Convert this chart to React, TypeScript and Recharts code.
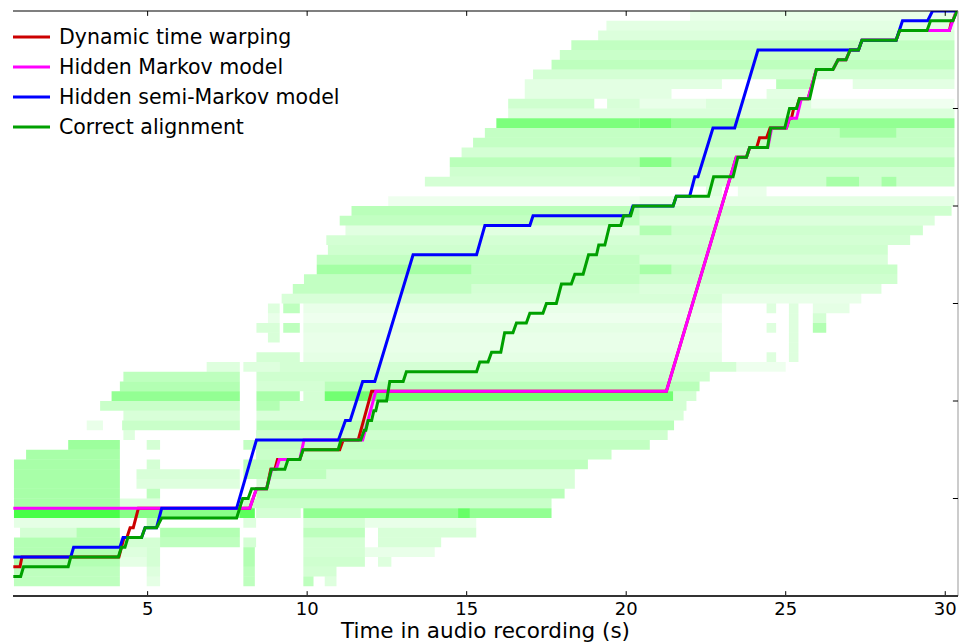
import React from 'react';
import { ComposedChart, XAxis, YAxis, Line, ReferenceArea, ReferenceLine, Legend } from 'recharts';

const X_MIN = 0.78;
const X_MAX = 30.4;
const Y_MIN = 0;
const Y_MAX = 60;
const xTicks = [5, 10, 15, 20, 25, 30];
const yTicks = [10, 20, 30, 40, 50];

const seriesNames = ['Dynamic time warping', 'Hidden Markov model', 'Hidden semi-Markov model', 'Correct alignment'];
const seriesColors = ['#cc0000', '#ff00ff', '#0000ff', '#00a000'];

type P = [number, number];

const dtwPath: P[] = [
  [0.79, 3], [1.0, 3], [1.06, 4], [4.1, 4], [4.26, 6], [4.35, 6], [4.45, 7], [4.55, 7], [4.71, 9], [8.2, 9],
  [8.41, 11], [8.73, 11], [8.86, 13], [8.99, 13], [9.07, 14], [9.77, 14], [9.87, 15], [11.02, 15], [11.13, 16],
  [11.6, 16], [12.02, 21], [21.26, 21], [23.45, 45], [23.77, 45], [23.87, 46], [24.09, 46], [24.18, 47], [24.4, 47],
  [24.51, 48], [25.02, 48], [25.12, 49], [25.18, 49], [25.25, 50], [25.34, 50], [25.43, 51], [25.7, 51], [25.96, 54],
  [26.48, 54], [26.64, 55], [26.89, 55], [27.02, 56], [27.28, 56], [27.39, 57], [28.46, 57], [28.57, 58], [30.13, 58],
  [30.2, 59], [30.24, 59], [30.35, 60],
];

const hmmPath: P[] = [
  [0.79, 9], [8.2, 9], [8.41, 11], [8.73, 11], [8.89, 13], [9.03, 13], [9.13, 14], [9.77, 14], [9.9, 16], [11.74, 16],
  [12.15, 21], [21.26, 21], [23.45, 45], [23.77, 45], [23.87, 46], [24.44, 46], [24.56, 48], [25.02, 48], [25.12, 49],
  [25.34, 49], [25.49, 51], [25.7, 51], [25.96, 54], [26.48, 54], [26.64, 55], [26.89, 55], [27.02, 56], [27.28, 56],
  [27.39, 57], [28.46, 57], [28.57, 58], [30.13, 58], [30.35, 60],
];

const hsmmPath: P[] = [
  [0.79, 4], [2.59, 4], [2.68, 5], [4.13, 5], [4.23, 6], [4.81, 6], [4.92, 7], [5.28, 7], [5.44, 9], [7.79, 9],
  [8.41, 16], [10.98, 16], [11.2, 18], [11.35, 18], [11.74, 22], [12.12, 22], [13.32, 35], [15.31, 35], [15.57, 38],
  [16.98, 38], [17.08, 39], [20.11, 39], [20.21, 40], [21.47, 40], [21.57, 41], [21.99, 41], [22.15, 43], [22.25, 43],
  [22.72, 48], [23.4, 48], [24.13, 56], [27.28, 56], [27.39, 57], [28.46, 57], [28.66, 59], [29.45, 59], [29.6, 60],
  [30.38, 60],
];

const truePath: P[] = [
  [0.79, 2], [1.02, 2], [1.11, 3], [2.51, 3], [2.59, 4], [4.08, 4], [4.18, 5], [4.29, 5], [4.38, 6], [4.81, 6],
  [4.92, 7], [5.28, 7], [5.44, 8], [7.79, 8], [7.98, 10], [8.15, 10], [8.26, 11], [8.73, 11], [8.88, 13], [9.3, 13],
  [9.4, 14], [9.77, 14], [9.87, 15], [10.97, 15], [11.06, 16], [11.68, 16], [11.79, 17], [11.84, 17], [11.91, 18],
  [12.02, 18], [12.09, 19], [12.15, 19], [12.22, 20], [12.49, 20], [12.59, 22], [13.01, 22], [13.11, 23], [15.31, 23],
  [15.41, 24], [15.67, 24], [15.78, 25], [16.07, 25], [16.19, 27], [16.45, 27], [16.56, 28], [16.87, 28], [16.98, 29],
  [17.39, 29], [17.5, 30], [17.81, 30], [17.97, 32], [18.28, 32], [18.39, 33], [18.65, 33], [18.82, 35], [19.07, 35],
  [19.14, 36], [19.33, 36], [19.48, 38], [19.83, 38], [19.92, 39], [20.14, 39], [20.23, 40], [21.47, 40], [21.57, 41],
  [22.58, 41], [22.74, 43], [23.35, 43], [23.5, 45], [23.77, 45], [23.87, 46], [24.43, 46], [24.53, 48], [24.97, 48],
  [25.12, 50], [25.34, 50], [25.43, 51], [25.75, 51], [25.96, 54], [26.48, 54], [26.64, 55], [26.89, 55], [27.02, 56],
  [27.28, 56], [27.39, 57], [28.46, 57], [28.57, 58], [29.43, 58], [29.54, 59], [30.24, 59], [30.37, 60],
];

// heat map: index = score row; each segment = [start time, end time, intensity]
type Seg = [number, number, number];
const heatRows: Seg[][] = [
  [],
  [[0.81, 4.13, 0.3], [4.97, 5.39, 0.12], [8.0, 8.36, 0.3], [9.88, 10.2, 0.3], [10.55, 10.92, 0.15]],
  [[0.81, 4.13, 0.3], [4.97, 5.39, 0.15], [8.0, 8.36, 0.3], [9.88, 10.92, 0.2]],
  [[0.81, 4.13, 0.35], [4.13, 4.97, 0.12], [4.97, 5.39, 0.2], [8.0, 8.36, 0.35], [9.88, 11.81, 0.22], [12.22, 12.64, 0.15]],
  [[0.81, 4.13, 0.35], [4.13, 4.97, 0.15], [4.97, 5.39, 0.2], [8.0, 8.36, 0.35], [9.88, 11.81, 0.2], [11.81, 14.0, 0.1]],
  [[0.81, 4.13, 0.35], [4.13, 5.39, 0.2], [5.39, 7.89, 0.3], [8.0, 8.4, 0.2], [9.88, 11.81, 0.2], [12.22, 14.2, 0.18]],
  [[1.0, 2.77, 0.2], [2.77, 4.13, 0.35], [5.39, 7.89, 0.35], [9.88, 11.81, 0.3], [12.22, 15.3, 0.18]],
  [[0.81, 4.13, 0.12], [4.97, 5.39, 0.3], [8.0, 8.4, 0.15], [9.88, 11.81, 0.2], [11.81, 15.3, 0.1]],
  [[0.81, 4.13, 0.85], [4.13, 7.89, 0.55], [7.89, 8.36, 0.75], [8.4, 9.8, 0.2], [9.88, 14.73, 0.5], [14.73, 15.1, 0.7], [15.1, 17.66, 0.5]],
  [[0.81, 4.13, 0.4], [4.13, 5.39, 0.15], [8.0, 17.66, 0.25]],
  [[0.81, 4.13, 0.4], [4.97, 5.39, 0.3], [8.41, 18.07, 0.32]],
  [[0.81, 4.13, 0.4], [4.65, 7.89, 0.15], [8.41, 18.39, 0.18]],
  [[0.81, 4.13, 0.4], [4.65, 7.89, 0.18], [8.0, 10.6, 0.3], [10.6, 18.39, 0.18]],
  [[0.81, 4.13, 0.4], [4.97, 5.39, 0.2], [8.0, 18.8, 0.3]],
  [[1.19, 4.13, 0.4], [8.4, 19.54, 0.25]],
  [[2.51, 4.13, 0.45], [4.97, 5.39, 0.2], [8.0, 20.74, 0.28]],
  [[4.24, 4.6, 0.15], [8.4, 21.3, 0.22]],
  [[3.09, 3.6, 0.1], [4.2, 7.89, 0.25], [8.41, 21.5, 0.32]],
  [[4.24, 7.89, 0.18], [8.41, 21.8, 0.18]],
  [[3.51, 7.89, 0.25], [8.41, 9.14, 0.35], [9.14, 21.89, 0.2]],
  [[3.87, 7.89, 0.5], [8.41, 9.77, 0.4], [9.88, 10.55, 0.2], [10.55, 21.47, 0.65], [21.47, 22.2, 0.2]],
  [[4.13, 7.89, 0.35], [8.41, 10.55, 0.2], [10.55, 22.3, 0.32]],
  [[4.24, 7.89, 0.3], [8.41, 22.62, 0.22]],
  [[6.85, 7.89, 0.15], [8.0, 9.14, 0.15], [9.14, 23.45, 0.2], [23.45, 25.0, 0.08]],
  [[8.41, 9.77, 0.2], [9.88, 23.0, 0.12], [24.4, 24.7, 0.15], [25.1, 25.4, 0.15]],
  [[9.88, 23.0, 0.1], [25.1, 25.4, 0.15]],
  [[8.77, 9.14, 0.18], [9.88, 23.0, 0.1], [25.1, 25.4, 0.15]],
  [[8.41, 9.14, 0.18], [9.25, 9.77, 0.3], [9.88, 23.0, 0.12], [24.4, 24.7, 0.15], [25.1, 25.4, 0.15], [25.85, 26.27, 0.35]],
  [[8.77, 9.14, 0.1], [9.88, 23.0, 0.08], [25.1, 25.4, 0.15], [25.85, 26.27, 0.2]],
  [[8.77, 9.14, 0.15], [9.25, 9.77, 0.3], [9.88, 23.0, 0.1], [24.4, 24.7, 0.15], [25.1, 25.4, 0.15], [25.85, 27.0, 0.12]],
  [[9.2, 23.0, 0.18], [23.0, 27.37, 0.1]],
  [[9.55, 15.15, 0.28], [15.15, 20.42, 0.2], [20.42, 28.0, 0.16]],
  [[9.9, 20.42, 0.28], [20.42, 28.5, 0.22]],
  [[10.3, 15.15, 0.42], [15.15, 20.42, 0.28], [20.42, 21.42, 0.4], [21.42, 28.5, 0.25]],
  [[10.3, 20.42, 0.28], [20.42, 28.2, 0.18]],
  [[10.65, 28.2, 0.22]],
  [[10.6, 28.9, 0.2]],
  [[11.2, 20.42, 0.14], [20.42, 21.42, 0.35], [21.42, 29.3, 0.22]],
  [[11.02, 20.42, 0.28], [20.42, 29.67, 0.16]],
  [[11.39, 20.42, 0.32], [20.42, 30.2, 0.22]],
  [[12.54, 20.42, 0.08], [20.42, 30.29, 0.12]],
  [[22.5, 23.0, 0.15], [23.5, 24.4, 0.1]],
  [[13.69, 20.42, 0.2], [20.42, 26.27, 0.22], [26.27, 27.3, 0.4], [27.3, 28.0, 0.22], [28.0, 28.47, 0.4], [28.47, 30.29, 0.22]],
  [[14.47, 30.29, 0.22]],
  [[14.47, 20.42, 0.32], [20.42, 21.42, 0.55], [21.42, 30.29, 0.32]],
  [[14.84, 30.29, 0.2]],
  [[15.2, 30.29, 0.27]],
  [[15.57, 26.69, 0.27], [26.69, 28.47, 0.42], [28.47, 30.29, 0.27]],
  [[15.93, 20.42, 0.6], [20.42, 21.42, 0.65], [21.42, 30.29, 0.5]],
  [[16.3, 30.29, 0.16]],
  [[16.3, 19.0, 0.22], [19.4, 20.42, 0.18], [20.42, 22.5, 0.1], [22.5, 25.8, 0.16], [25.8, 30.29, 0.07]],
  [[16.82, 21.42, 0.13], [24.4, 25.8, 0.13]],
  [[16.82, 23.0, 0.13], [24.7, 25.8, 0.32], [27.1, 30.29, 0.13]],
  [[17.08, 30.29, 0.2]],
  [[17.66, 30.29, 0.3]],
  [[17.92, 30.29, 0.25]],
  [[18.28, 30.29, 0.28]],
  [[19.12, 30.29, 0.16]],
  [[19.38, 30.29, 0.13]],
  [[22.0, 30.29, 0.1]],
];

const toPts = (p: P[]) => p.map(([t, v]) => ({ t, v }));
const paths = [dtwPath, hmmPath, hsmmPath, truePath].map(toPts);

const cells = heatRows.flatMap((segs, r) => segs.map(([t0, t1, a], i) => ({ key: `${r}-${i}`, t0, t1, r, a })));

const FONT = 'DejaVu Sans';
const OPACITY_SCALE = 0.85;

const LegendBox = () => (
  <div style={{ fontFamily: FONT, fontSize: 20.5, color: '#000' }}>
    {seriesNames.map((n, i) => (
      <div key={n} style={{ display: 'flex', alignItems: 'center', height: 30 }}>
        <svg width={37} height={6} style={{ display: 'block' }}>
          <line x1={0} y1={3} x2={37} y2={3} stroke={seriesColors[i]} strokeWidth={3} />
        </svg>
        <span style={{ marginLeft: 9, whiteSpace: 'nowrap', lineHeight: '30px' }}>{n}</span>
      </div>
    ))}
  </div>
);

const TL = 0.16; // tick length, x units
const TLY = 0.5; // tick length, y units

export default function App() {
  return (
    <div style={{ position: 'absolute', left: 0, top: 0, width: 959, height: 642, background: '#fff' }}>
      <ComposedChart width={959} height={642} margin={{ top: 11, right: 1, bottom: 0, left: 13 }}>
        <XAxis
          type="number"
          dataKey="t"
          domain={[X_MIN, X_MAX]}
          allowDataOverflow
          ticks={xTicks}
          tickLine={false}
          tickMargin={0}
          axisLine={{ stroke: '#333', strokeWidth: 2 }}
          tick={{ fontSize: 18, fill: '#000', fontFamily: FONT }}
          height={46}
          label={{ value: 'Time in audio recording (s)', position: 'insideBottom', offset: 4, fontSize: 21.5, fill: '#000', fontFamily: FONT }}
        />
        <YAxis type="number" dataKey="v" domain={[Y_MIN, Y_MAX]} allowDataOverflow hide width={0} />
        {cells.map((c) => (
          <ReferenceArea
            key={c.key}
            x1={c.t0}
            x2={c.t1}
            y1={c.r}
            y2={c.r + 1}
            fill="#00ff00"
            fillOpacity={c.a * OPACITY_SCALE}
            stroke="none"
            strokeWidth={0}
            ifOverflow="hidden"
          />
        ))}
        {paths.map((d, i) => (
          <Line
            key={seriesNames[i]}
            data={d}
            dataKey="v"
            name={seriesNames[i]}
            type="linear"
            stroke={seriesColors[i]}
            strokeWidth={3}
            dot={false}
            activeDot={false}
            isAnimationActive={false}
          />
        ))}
        <ReferenceLine y={Y_MAX} stroke="#000" strokeWidth={1.2} />
        <ReferenceLine x={X_MAX} stroke="#999" strokeWidth={1} />
        {xTicks.map((t) => (
          <ReferenceLine key={`bt${t}`} segment={[{ x: t, y: Y_MIN }, { x: t, y: Y_MIN + TLY }]} stroke="#000" strokeWidth={1} />
        ))}
        {xTicks.map((t) => (
          <ReferenceLine key={`tt${t}`} segment={[{ x: t, y: Y_MAX }, { x: t, y: Y_MAX - TLY }]} stroke="#000" strokeWidth={1} />
        ))}
        {[Y_MIN, ...yTicks].map((v) => (
          <ReferenceLine key={`rt${v}`} segment={[{ x: X_MAX - TL, y: v }, { x: X_MAX, y: v }]} stroke="#000" strokeWidth={1} />
        ))}
        <Legend
          layout="vertical"
          align="center"
          verticalAlign="middle"
          content={() => <LegendBox />}
          wrapperStyle={{ position: 'absolute', left: 13, top: 22, width: 'auto', height: 'auto' }}
        />
      </ComposedChart>
    </div>
  );
}
